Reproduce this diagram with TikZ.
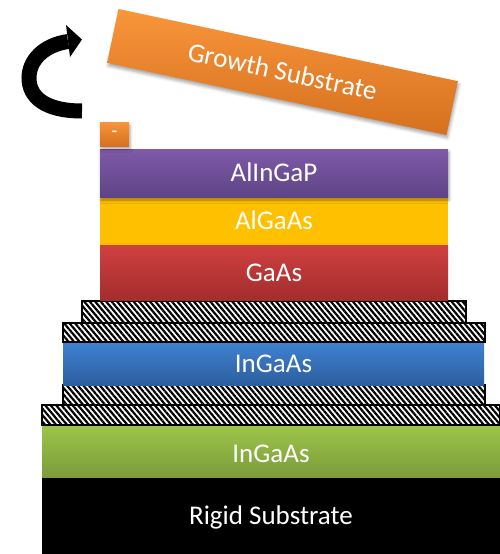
\documentclass[tikz,border=0pt]{standalone}
\usepackage{fontspec}
\setmainfont{Carlito}
\usetikzlibrary{patterns.meta,shadows.blur}

\definecolor{purpleTop}{HTML}{7F5AA8}
\definecolor{purpleBot}{HTML}{5E4486}
\definecolor{goldFill}{HTML}{FFC000}
\definecolor{redTop}{HTML}{D04040}
\definecolor{redBot}{HTML}{A32D2D}
\definecolor{blueTop}{HTML}{4082D2}
\definecolor{blueBot}{HTML}{2C5E9F}
\definecolor{greenTop}{HTML}{9DC54B}
\definecolor{greenBot}{HTML}{7C9C3A}
\definecolor{orangeTop}{HTML}{F9953A}
\definecolor{orangeBot}{HTML}{D5701F}

\begin{document}
\begin{tikzpicture}[x=1pt,y=-1pt,
  layer/.style={inner sep=0pt, outer sep=0pt, draw=none, text=white,
    font=\fontsize{27}{30}\selectfont, text height=17pt, text depth=0pt,
    anchor=north west},
  softshadow/.style={blur shadow={shadow xshift=1pt, shadow yshift=-3pt,
    shadow blur radius=3pt, shadow opacity=35}},
  hatchband/.style={inner sep=0pt, outer sep=0pt, anchor=north west,
    draw=black, line width=1.6pt, preaction={fill=white},
    pattern={Lines[angle=-50,distance=4.2pt,line width=2.2pt]},
    pattern color=black},
]
\useasboundingbox (0,0) rectangle (500,554);

% substrate and lower cell
\node[layer, fill=black, minimum width=458pt, minimum height=77pt]
  (rigid) at (42,477) {Rigid Substrate};
\node[layer, top color=greenTop, bottom color=greenBot,
  minimum width=458pt, minimum height=52pt, text height=11pt] (ingaasg) at (42,425)
  {\raisebox{-6pt}{InGaAs}};
\node[hatchband, minimum width=458pt, minimum height=20pt] (tjd) at (42,405) {};

% middle cell
\node[hatchband, minimum width=422pt, minimum height=20pt] (tjc) at (63,385) {};
\node[layer, top color=blueTop, bottom color=blueBot,
  minimum width=421pt, minimum height=43pt] (ingaasb) at (63,342) {InGaAs};
\node[hatchband, minimum width=422pt, minimum height=19pt] (tjb) at (63,323) {};
\node[hatchband, minimum width=384pt, minimum height=22pt] (tja) at (82,301) {};

% top cell
\node[layer, top color=redTop, bottom color=redBot,
  minimum width=348pt, minimum height=55pt] (gaas) at (100,245) {GaAs};
\node[layer, fill=goldFill, minimum width=348pt, minimum height=48pt]
  (algaas) at (100,197) {AlGaAs};
\node[layer, softshadow, top color=purpleTop, bottom color=purpleBot,
  minimum width=348pt, minimum height=48pt] (alingap) at (100,149) {AlInGaP};

% small contact pad
\node[layer, softshadow, top color=orangeTop, bottom color=orangeBot,
  minimum width=29pt, minimum height=24pt, text height=6pt,
  font=\fontsize{20}{20}\selectfont]
  (pad) at (100,122) {-};

% lifted growth substrate
\node[inner sep=0pt, outer sep=0pt, softshadow, rotate=-12,
  top color=orangeTop, bottom color=orangeBot, text=white,
  font=\fontsize{27}{30}\selectfont, text height=17pt, text depth=0pt,
  minimum width=347pt, minimum height=55pt] (growth) at (282.5,72)
  {Growth Substrate};

% curved lift-off arrow
\coordinate (tail) at (82,111);
\coordinate (bend) at (29,78);
\coordinate (neck) at (68,41.5);
\draw[line width=15pt, black] (tail) .. controls (45,111) and (29,97) .. (bend)
  .. controls (29,60) and (44,45) .. (neck);
\fill[black] (66,25) -- (82,39.5) -- (70,57) -- cycle;
\end{tikzpicture}
\end{document}
